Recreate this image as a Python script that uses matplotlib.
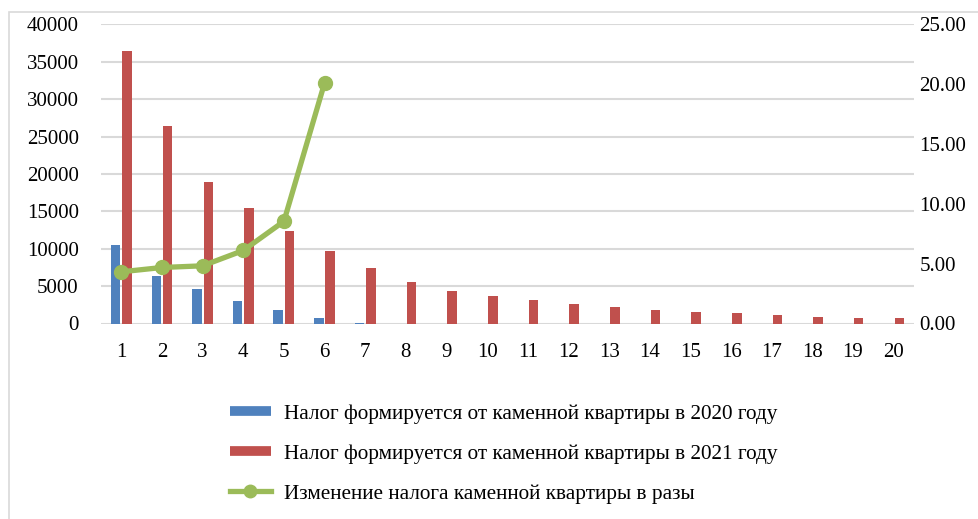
import matplotlib
matplotlib.use("Agg")
import matplotlib.pyplot as plt
from matplotlib.patches import Rectangle
from matplotlib.lines import Line2D
import numpy as np

plt.rcParams['font.family'] = ['Liberation Serif', 'DejaVu Serif']

categories = [str(i) for i in range(1, 21)]
tax_2020 = [10500, 6400, 4580, 3070, 1820, 800, 60, 0, 0, 0,
            0, 0, 0, 0, 0, 0, 0, 0, 0, 0]
tax_2021 = [36400, 26440, 18930, 15380, 12310, 9690, 7400, 5530, 4410, 3740,
            3120, 2670, 2230, 1870, 1600, 1380, 1110, 930, 750, 670]
ratio = [4.32, 4.68, 4.82, 6.10, 8.54, 20.10]

label_2020 = "Налог формируется от каменной квартиры в 2020 году"
label_2021 = "Налог формируется от каменной квартиры в 2021 году"
label_ratio = "Изменение налога каменной квартиры в разы"

left_ticks = [0, 5000, 10000, 15000, 20000, 25000, 30000, 35000, 40000]
right_ticks = [0, 5, 10, 15, 20, 25]

BLUE = "#4F81BD"
RED = "#C0504D"
GREEN = "#9BBB59"
GRID = "#d9d9d9"
FS = 15

W, H = 979, 519
fig = plt.figure(figsize=(W / 100, H / 100), dpi=100)

# outer chart frame (left and top edges visible)
fig.patches.append(Rectangle((9 / W, -0.1), 1.2, 1 - 12 / H + 0.1,
                             transform=fig.transFigure, fill=False,
                             edgecolor="#d9d9d9", linewidth=1.2, zorder=0))

ax_l, ax_r, ax_b, ax_t = 101, 914, 323.5, 24.3
ax = fig.add_axes([ax_l / W, 1 - ax_b / H, (ax_r - ax_l) / W, (ax_b - ax_t) / H])

x = np.arange(len(categories))
bw = 0.235
off = 0.14
ax.bar(x - off, tax_2020, width=bw, color=BLUE, zorder=3, label=label_2020)
ax.bar(x + off, tax_2021, width=bw, color=RED, zorder=3, label=label_2021)

ax.set_xlim(-0.5, len(categories) - 0.5)
ax.set_ylim(0, 40000)
ax.set_yticks(left_ticks)
ax.set_yticklabels([str(t) for t in left_ticks], fontsize=FS)
ax.set_xticks(x)
ax.set_xticklabels(categories, fontsize=FS)
ax.tick_params(axis="both", length=0)
ax.tick_params(axis="y", pad=16)
ax.tick_params(axis="x", pad=14)
ax.grid(axis="y", color=GRID, linewidth=1.5, zorder=0)
ax.set_axisbelow(True)
for s in ax.spines.values():
    s.set_visible(False)

ax2 = ax.twinx()
ax2.plot(x[:len(ratio)], ratio, color=GREEN, linewidth=3.8,
         marker="o", markersize=10, zorder=4, label=label_ratio)
ax2.set_ylim(0, 25)
ax2.set_yticks(right_ticks)
ax2.set_yticklabels([f"{t:.2f}" for t in right_ticks], fontsize=FS)
ax2.tick_params(axis="y", length=0, pad=4)
for s in ax2.spines.values():
    s.set_visible(False)

h1 = Line2D([], [], color=BLUE, linewidth=7, solid_capstyle="butt")
h2 = Line2D([], [], color=RED, linewidth=7, solid_capstyle="butt")
h3 = Line2D([], [], color=GREEN, linewidth=3.8, marker="o", markersize=9)
fig.legend([h1, h2, h3], [label_2020, label_2021, label_ratio],
           loc="upper left", bbox_to_anchor=(219 / W, 1 - 393 / H),
           frameon=False, fontsize=15.3, borderpad=0, handlelength=1.95,
           handletextpad=0.6, labelspacing=0.95)

fig.savefig("out.png", dpi=100)
